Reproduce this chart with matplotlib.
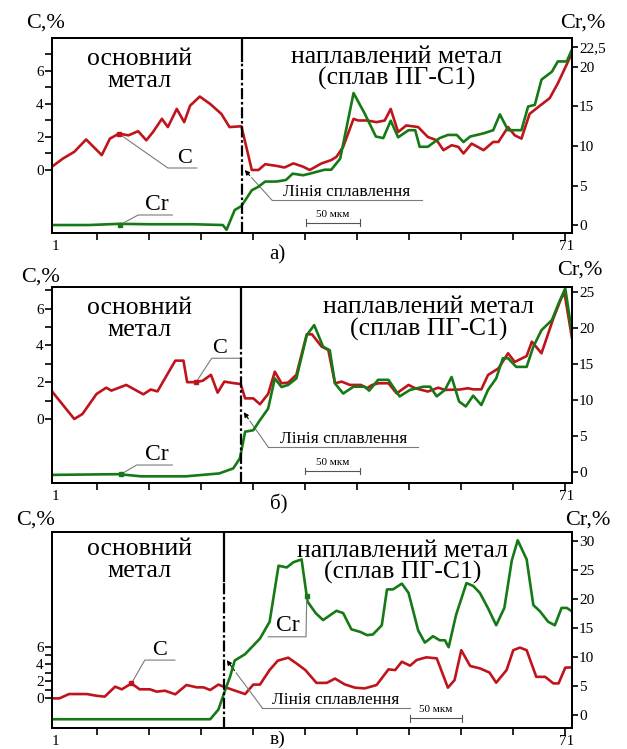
import matplotlib
matplotlib.use('Agg')
import matplotlib.pyplot as plt

plt.rcParams['font.family'] = ['Liberation Serif', 'DejaVu Serif']

RED = '#c0141c'
GREEN = '#157a15'
GREY = '#7a7a7a'

# а) point number along the scan line -> C, % and Cr, %
a_c_x = [1, 2.5, 4, 5.6, 7.7, 8.8, 10, 11.3, 12.6, 13.7, 14.6, 15.8, 16.6, 17.8, 18.8,
         19.6, 20.9, 22.3, 23.8, 24.9, 26.5, 27.9, 28.8, 29.7, 31.2, 32.3, 33.5, 34.8,
         35.7, 37.3, 38.6, 39.3, 40.2, 41.6, 42.2, 43.4, 44.7, 45.8, 46.6, 47.6, 48.7,
         50.3, 51.6, 52.8, 53.7, 54.8, 55.7, 56.4, 57.5, 59.1, 60.4, 61.1, 62.4, 63.3,
         64.2, 65.3, 66.7, 68.0, 69.1, 70.3, 71]
a_c_y = [0.2, 0.7, 1.1, 1.85, 0.9, 1.9, 2.2, 2.1, 2.35, 1.8, 2.3, 3.1, 2.6, 3.7, 2.9,
         3.9, 4.45, 4.0, 3.4, 2.6, 2.65, 0.0, 0.0, 0.35, 0.25, 0.15, 0.4, 0.2,
         0.0, 0.4, 0.6, 0.8, 1.4, 3.1, 3.0, 3.0, 2.9, 3.0, 3.7, 2.3, 2.7,
         2.6, 2.0, 1.8, 1.2, 1.5, 1.4, 1.0, 1.6, 1.2, 1.7, 1.7, 2.6, 2.1,
         1.9, 3.4, 3.9, 4.35, 5.25, 6.4, 7.1]
a_cr_x = [1, 6, 10, 14, 20, 24, 24.5, 25.6, 26.5, 27.9, 28.8, 29.7, 31.2, 32.5, 33.4,
          34.8, 35.7, 37.7, 38.6, 39.8, 41.6, 43.1, 44.6, 45.6, 46.6, 47.6, 49.0, 49.9,
          50.5, 51.6, 53.2, 54.3, 55.5, 56.4, 57.3, 59.1, 60.4, 61.3, 62.4, 63.1, 64.2,
          65.1, 66.0, 66.9, 68.3, 69.1, 70.3, 71]
a_cr_y = [0.0, 0.0, 0.15, 0.1, 0.1, 0.0, -0.6, 1.9, 2.4, 4.4, 4.85, 5.5, 5.5, 5.7, 6.5,
          6.3, 6.5, 7.0, 7.0, 8.4, 16.7, 14.1, 11.2, 11.0, 13.2, 11.1, 12.0, 12.0,
          9.9, 9.9, 11.0, 11.4, 11.4, 10.5, 11.2, 11.6, 12.0, 14.0, 12.0, 12.0, 12.0,
          15.0, 15.2, 18.4, 19.4, 20.7, 20.7, 22.2]

# б)
b_c_x = [1, 4, 5.1, 7.0, 8.3, 9.0, 11.0, 13.3, 14.3, 15.2, 17.6, 18.7, 19.2, 20.4, 21.3,
         22.4, 23.3, 24.2, 25.4, 26.4, 27.0, 28.1, 29.0, 30.1, 31.0, 31.9, 32.8, 33.9,
         35.3, 36.0, 37.3, 38.2, 39.1, 40.0, 41.1, 42.6, 43.4, 44.1, 45.0, 46.3, 47.4,
         49.0, 49.9, 51.6, 53.0, 53.9, 55.9, 57.0, 57.7, 58.8, 59.7, 61.1, 62.4, 63.3,
         64.9, 65.6, 66.9, 68.5, 69.6, 70.0, 71]
b_c_y = [1.5, 0.0, 0.27, 1.36, 1.7, 1.54, 1.85, 1.34, 1.6, 1.5, 3.17, 3.17, 2.0, 2.0, 2.08,
         2.4, 1.43, 2.03, 1.95, 1.9, 1.12, 1.12, 0.8, 1.36, 2.57, 1.94, 1.98, 2.4,
         4.6, 4.6, 3.93, 3.75, 1.94, 2.03, 1.85, 1.85, 1.67, 1.85, 1.94, 1.94, 1.39,
         1.85, 1.67, 1.49, 1.7, 1.58, 1.6, 1.67, 1.61, 1.61, 2.39, 2.75, 3.57, 3.1,
         3.42, 4.2, 3.57, 5.47, 6.6, 6.83, 4.4]
b_cr_x = [1, 10, 13, 19, 23.5, 25.4, 26.3, 27.0, 28.1, 29.0, 30.1, 31.0, 31.9, 32.8, 33.9,
          35.3, 36.3, 37.5, 38.4, 39.1, 40.2, 41.6, 43.1, 43.7, 44.9, 46.3, 47.8, 49.2,
          51.0, 51.9, 52.8, 53.9, 54.8, 55.8, 56.7, 57.7, 58.8, 59.7, 60.8, 61.7, 62.4,
          63.5, 64.9, 65.8, 66.9, 68.3, 69.2, 70.1, 71]
b_cr_y = [-0.4, -0.3, -0.6, -0.6, -0.2, 0.5, 1.9, 5.6, 5.8, 7.2, 8.8, 13.0, 11.8, 12.1, 13.0,
          19.0, 20.4, 17.4, 16.9, 12.3, 10.9, 11.85, 11.85, 11.3, 12.8, 12.8, 10.5, 11.4,
          11.85, 11.85, 10.5, 11.4, 13.2, 9.8, 9.1, 10.6, 9.3, 11.4, 13.0, 15.8, 15.8,
          14.6, 14.6, 17.4, 19.7, 21.1, 23.4, 25.5, 19.3]

# в)
c_c_x = [1, 2.0, 3.3, 5.7, 7.0, 8.1, 9.5, 10.4, 11.7, 12.8, 14.2, 15.1, 16.2, 17.6, 19.1,
         20.5, 21.4, 22.3, 23.4, 24.1, 25.4, 27.0, 28.1, 29.0, 30.3, 31.4, 32.8, 33.9,
         35.1, 36.6, 38.0, 39.1, 40.4, 41.8, 43.1, 44.7, 46.3, 47.2, 48.1, 49.2, 50.1,
         51.4, 52.8, 54.3, 55.2, 56.1, 57.3, 58.6, 59.9, 60.8, 62.2, 63.1, 64.0, 64.9,
         66.2, 67.4, 68.5, 69.2, 70.1, 71]
c_c_y = [0.0, 0.0, 0.5, 0.5, 0.3, 0.2, 1.36, 1.05, 1.74, 1.05, 1.05, 0.78, 0.89, 0.47, 1.55,
         1.28, 1.28, 0.97, 1.6, 1.36, 0.97, 0.5, 1.6, 1.6, 3.3, 4.38, 4.73, 4.07,
         3.3, 1.8, 1.8, 2.3, 1.63, 1.24, 1.16, 1.55, 3.37, 3.29, 4.26, 3.8, 4.46,
         4.77, 4.65, 1.24, 2.13, 5.6, 3.76, 3.49, 3.0, 1.82, 3.29, 5.6, 5.9, 5.6,
         2.5, 2.5, 1.74, 1.74, 3.57, 3.6]
c_cr_x = [1, 22.3, 23.4, 24.1, 25.0, 25.6, 27.0, 29.0, 30.3, 31.5, 32.6, 33.5, 34.6, 35.4,
          36.5, 37.5, 39.3, 40.2, 41.3, 42.5, 43.4, 44.2, 45.4, 46.1, 46.9, 48.1, 49.0,
          50.3, 51.2, 52.3, 53.2, 53.9, 54.4, 55.4, 56.8, 57.7, 58.6, 59.7, 60.8, 61.9,
          62.9, 63.7, 64.9, 65.8, 66.7, 67.8, 68.7, 69.6, 70.3, 71]
c_cr_y = [-0.76, -0.76, 0.9, 3.5, 6.7, 9.4, 10.5, 13.2, 16.1, 25.8, 25.5, 26.4, 26.9, 19.6,
          17.6, 16.4, 18.0, 17.6, 14.8, 14.35, 13.8, 13.9, 15.5, 21.7, 21.7, 22.7, 21.1,
          14.6, 12.5, 13.6, 12.9, 12.9, 11.7, 17.3, 22.8, 22.3, 21.1, 18.45, 15.5, 18.5,
          26.7, 30.2, 26.9, 19.0, 17.9, 16.1, 15.5, 18.5, 18.5, 17.9]

fig = plt.figure(figsize=(6.27, 7.49), dpi=100)


def draw_panel(rect, c_x, c_y, cr_x, cr_y, c_lim, cr_lim, c_minor, cr_ticks, cr_labels,
               fusion_x, solid_from, base_xy, alloy_xy):
    ax = fig.add_axes(rect)
    ax2 = ax.twinx()
    ax.plot(c_x, c_y, color=RED, lw=1.9)
    ax2.plot(cr_x, cr_y, color=GREEN, lw=1.9)

    ax.set_xlim(1, 71)
    ax.set_ylim(*c_lim)
    ax2.set_ylim(*cr_lim)

    ax.set_xticks(range(7, 71, 7))
    ax.set_xticklabels([])
    ax.set_yticks([0, 2, 4, 6])
    ax.set_yticks(c_minor, minor=True)
    ax.tick_params(axis='y', which='both', direction='out', length=5, width=1.2,
                   labelsize=11, pad=1)
    ax.tick_params(axis='x', direction='out', length=5, width=1.2)
    ax2.set_yticks(cr_ticks)
    ax2.set_yticklabels(cr_labels)
    ax2.tick_params(axis='y', direction='out', length=4, width=1.2, labelsize=11, pad=1)
    for sp in list(ax.spines.values()) + list(ax2.spines.values()):
        sp.set_linewidth(1.4)

    # fusion boundary: solid near the top, dash-dot below
    ax2.axvline(fusion_x, ymin=solid_from, ymax=1, color='black', lw=1.6)
    ax2.axvline(fusion_x, ymin=0, ymax=solid_from, color='black', lw=1.6,
                linestyle=(0, (5, 1.2, 1.2, 1.2)))

    ax2.text(base_xy[0], base_xy[1], 'основний\nметал', transform=ax.transAxes,
             ha='center', va='center', fontsize=18.5, linespacing=0.95)
    ax2.text(alloy_xy[0], alloy_xy[1], 'наплавлений метал\n(сплав ПГ-С1)',
             transform=ax.transAxes, ha='center', va='center', fontsize=18.5,
             linespacing=0.95)
    ax.text(0.006, -0.035, '1', transform=ax.transAxes, ha='center', va='top', fontsize=11)
    ax.text(0.99, -0.035, '71', transform=ax.transAxes, ha='center', va='top', fontsize=11)
    return ax, ax2


def leader(ax, pts, label, tx, ty, color, size=17):
    xs = [p[0] for p in pts]
    ys = [p[1] for p in pts]
    ax.plot(xs, ys, color=GREY, lw=0.8, clip_on=False, zorder=5)
    ax.plot(xs[0], ys[0], 's', color=color, ms=3, zorder=6)
    ax.text(tx, ty, label, ha='center', va='bottom', fontsize=size)


def fusion_note(ax, tip, elbow, end_x):
    mid = (tip[0] + 0.3 * (elbow[0] - tip[0]), tip[1] + 0.3 * (elbow[1] - tip[1]))
    ax.plot([elbow[0], mid[0]], [elbow[1], mid[1]], color=GREY, lw=0.8, zorder=5)
    ax.plot([elbow[0], end_x], [elbow[1], elbow[1]], color=GREY, lw=0.8, zorder=5)
    ax.annotate('', xy=tip, xytext=mid,
                arrowprops=dict(arrowstyle='-|>', color='black', lw=0.8, mutation_scale=7),
                zorder=6)
    ax.text((elbow[0] + end_x) / 2, elbow[1], 'Лінія сплавлення', ha='center',
            va='bottom', fontsize=12.5)


def scale_bar(ax, x0, x1, y, cap):
    ax.plot([x0, x1], [y, y], color='#555555', lw=0.8)
    ax.plot([x0, x0], [y - cap, y + cap], color='#555555', lw=0.8)
    ax.plot([x1, x1], [y - cap, y + cap], color='#555555', lw=0.8)
    ax.text((x0 + x1) / 2, y + cap * 1.2, '50 мкм', ha='center', va='bottom', fontsize=8)


# а)
ax, ax2 = draw_panel([0.0829, 0.6889, 0.8293, 0.2604], a_c_x, a_c_y, a_cr_x, a_cr_y,
                     (-3.82, 8.0), (-1.01, 23.67), [1, 3, 5, 7],
                     [0, 5, 10, 15, 20, 22.5], ['0', '5', '10', '15', '20', '22,5'],
                     26.6, 0.88, (0.169, 0.836), (0.663, 0.847))
leader(ax, [(10, 2.2), (16.6, 0.12), (20.5, 0.12)], 'С', 18.9, 0.15, RED, 16)
leader(ax2, [(10.2, 0.05), (12.6, 1.27), (17.2, 1.27)], 'Cr', 15.1, 1.3, GREEN)
fusion_note(ax, (26.7, 0.12), (30.6, -1.82), 50.8)
scale_bar(ax, 35.2, 42.5, -3.2, 0.2)

# б)
ax, ax2 = draw_panel([0.0829, 0.3551, 0.8293, 0.2617], b_c_x, b_c_y, b_cr_x, b_cr_y,
                     (-3.48, 7.17), (-1.53, 25.69), [1, 3, 5, 7],
                     [0, 5, 10, 15, 20, 25], ['0', '5', '10', '15', '20', '25'],
                     26.4, 0.69, (0.169, 0.837), (0.725, 0.839))
leader(ax, [(20.4, 2.0), (22.5, 3.3), (26.3, 3.3)], 'С', 23.6, 3.33, RED, 16)
leader(ax2, [(10.3, -0.3), (12.4, 0.97), (17.2, 0.97)], 'Cr', 15.1, 1.0, GREEN)
fusion_note(ax, (26.6, 0.49), (30.1, -1.52), 50.3)
scale_bar(ax, 35.05, 42.45, -2.83, 0.18)

# в)
ax, ax2 = draw_panel([0.0829, 0.0280, 0.8293, 0.2617], c_c_x, c_c_y, c_cr_x, c_cr_y,
                     (-3.45, 19.34), (-2.28, 31.63), [1, 3, 5],
                     [0, 5, 10, 15, 20, 25, 30], ['0', '5', '10', '15', '20', '25', '30'],
                     24.15, 0.75, (0.169, 0.857), (0.674, 0.849))
leader(ax, [(11.7, 1.74), (13.5, 4.45), (17.55, 4.45)], 'С', 15.5, 4.5, RED, 16)
leader(ax2, [(35.3, 20.6), (35.2, 13.5), (30.1, 13.5)], 'Cr', 32.8, 13.6, GREEN)
fusion_note(ax, (24.3, 4.7), (29.3, -1.1), 49.2)
scale_bar(ax, 49.2, 56.2, -2.3, 0.4)

# axis captions and panel letters
fig.text(0.072, 0.969, 'С,%', ha='center', va='center', fontsize=16)
fig.text(0.930, 0.969, 'Cr,%', ha='center', va='center', fontsize=16)
fig.text(0.064, 0.630, 'С,%', ha='center', va='center', fontsize=16)
fig.text(0.925, 0.640, 'Cr,%', ha='center', va='center', fontsize=16)
fig.text(0.057, 0.306, 'С,%', ha='center', va='center', fontsize=16)
fig.text(0.938, 0.306, 'Cr,%', ha='center', va='center', fontsize=16)
fig.text(0.443, 0.660, 'а)', ha='center', va='center', fontsize=15)
fig.text(0.445, 0.327, 'б)', ha='center', va='center', fontsize=15)
fig.text(0.443, 0.002, 'в)', ha='center', va='bottom', fontsize=14)

fig.savefig('out.png', dpi=100)
